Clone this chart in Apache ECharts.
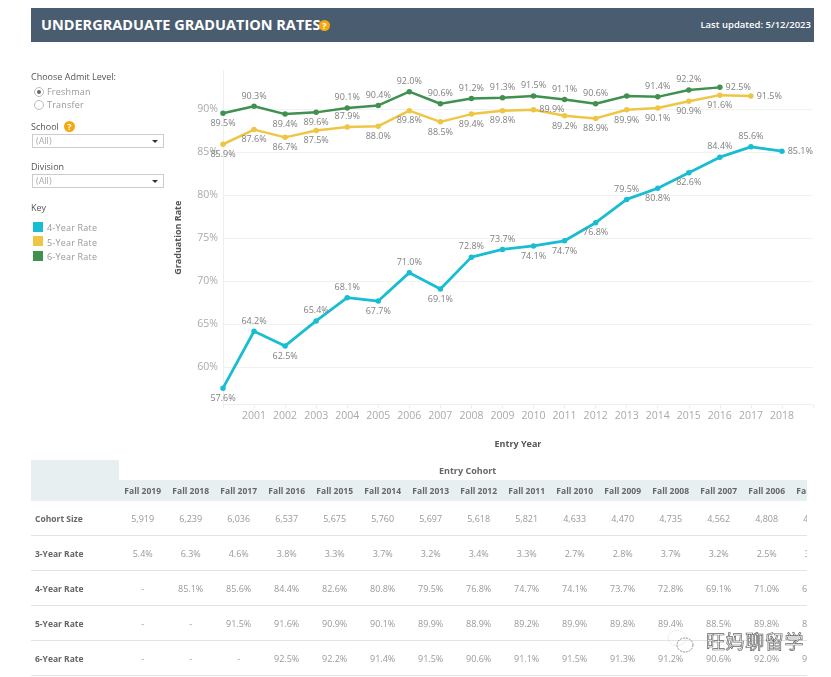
<!DOCTYPE html>
<html>
<head>
<meta charset="utf-8"/>
<title>Undergraduate Graduation Rates</title>
<style>
html,body{margin:0;padding:0;background:#fff;overflow:hidden;font-family:"Open Sans","Noto Sans",sans-serif;}
#main{position:absolute;left:0;top:0;width:831px;height:677px;}
.abs{position:absolute;white-space:nowrap;line-height:1;}
.hdr{left:31px;top:8px;width:783px;height:34px;background:#4a5d70;}
.help{width:11px;height:11px;border-radius:50%;background:#f5a70f;color:#fff;font-size:9px;font-weight:700;text-align:center;line-height:11px;}
.lab{font-size:9px;color:#555;}
.opt{font-size:9px;color:#999;letter-spacing:.2px;}
.radio{width:8px;height:8px;border:1px solid #bbb;border-radius:50%;background:#fff;}
.radio i{display:block;width:4px;height:4px;margin:2px;border-radius:50%;background:#666;}
.sel{left:32px;width:130px;height:12px;border:1px solid #ccc;font-size:9px;color:#aaa;line-height:12px;text-indent:3px;}
.sel b{position:absolute;right:5px;top:5px;width:0;height:0;border-left:3px solid transparent;border-right:3px solid transparent;border-top:3px solid #333;}
.swatch{left:33px;width:10px;height:10px;}
#tbl{position:absolute;left:31px;top:460px;width:776px;height:217px;overflow:hidden;}
#tbl .grey{position:absolute;background:#e8eff1;}
#tbl .c{position:absolute;width:48px;text-align:center;font-size:9px;line-height:12px;white-space:nowrap;color:#999;}
#tbl .c.h{font-weight:700;color:#666;font-size:8.5px;}
#tbl .r{position:absolute;left:4px;font-size:8.5px;font-weight:700;color:#666;line-height:12px;}
#tbl .ln{position:absolute;left:0;width:776px;height:1px;background:#e3e3e3;}
.wm{left:706px;top:630px;width:100px;height:24px;}
.wmt{left:706px;top:631px;font-family:"Noto Sans CJK SC";font-size:19px;letter-spacing:.6px;color:#fff;-webkit-text-stroke:.7px #666;}
</style>
</head>
<body>
<div id="main"></div>

<div class="abs hdr"></div>
<div class="abs" style="left:41px;top:18px;font-size:14.5px;font-weight:700;color:#fff;">UNDERGRADUATE GRADUATION RATES</div>
<div class="abs help" style="left:319px;top:20px;">?</div>
<div class="abs" style="right:20px;top:20px;font-size:9.5px;font-weight:600;color:#fff;">Last updated: 5/12/2023</div>

<div class="abs lab" style="left:31px;top:72px;">Choose Admit Level:</div>
<div class="abs radio" style="left:34px;top:87px;"><i></i></div>
<div class="abs opt" style="left:47px;top:87px;">Freshman</div>
<div class="abs radio" style="left:34px;top:100px;"></div>
<div class="abs opt" style="left:47px;top:100px;">Transfer</div>
<div class="abs lab" style="left:31px;top:122px;">School</div>
<div class="abs help" style="left:64px;top:121px;">?</div>
<div class="abs sel" style="top:134px;">(All)<b></b></div>
<div class="abs lab" style="left:31px;top:162px;">Division</div>
<div class="abs sel" style="top:174px;">(All)<b></b></div>
<div class="abs lab" style="left:31px;top:203px;">Key</div>
<div class="abs swatch" style="top:222px;background:#19bdd2;"></div>
<div class="abs opt" style="left:47px;top:223px;">4-Year Rate</div>
<div class="abs swatch" style="top:236px;background:#eec643;"></div>
<div class="abs opt" style="left:47px;top:238px;">5-Year Rate</div>
<div class="abs swatch" style="top:251px;background:#40904f;"></div>
<div class="abs opt" style="left:47px;top:252px;">6-Year Rate</div>

<div id="tbl"></div>

<svg class="abs wm" viewBox="0 0 30 24" style="width:30px;height:24px;left:666px;top:630px;display:none"></svg>
<svg class="abs" style="left:666px;top:628px;" width="34" height="28" fill="none" stroke="#777" stroke-width=".8" stroke-dasharray="2 1">
  <ellipse cx="11" cy="10" rx="9" ry="7.5" stroke="#ddd"/>
  <ellipse cx="19" cy="17" rx="8" ry="7"/>
</svg>
<div class="abs wmt">旺妈聊留学</div>

<script src="https://cdn.jsdelivr.net/npm/echarts@6/dist/echarts.min.js"></script>
<script type="text/javascript">
// chart data
var years = ['2000','2001','2002','2003','2004','2005','2006','2007','2008','2009','2010','2011','2012','2013','2014','2015','2016','2017','2018','2019'];
var rate4 = [57.6,64.2,62.5,65.4,68.1,67.7,71.0,69.1,72.8,73.7,74.1,74.7,76.8,79.5,80.8,82.6,84.4,85.6,85.1,null];
var rate5 = [85.9,87.6,86.7,87.5,87.9,88.0,89.8,88.5,89.4,89.8,89.9,89.2,88.9,89.9,90.1,90.9,91.6,91.5,null,null];
var rate6 = [89.5,90.3,89.4,89.6,90.1,90.4,92.0,90.6,91.2,91.3,91.5,91.1,90.6,91.5,91.4,92.2,92.5,null,null,null];
var yTicks = [60,65,70,75,80,85,90];

// table data, Fall 2019 down to Fall 2005
var cohorts = ['Fall 2019','Fall 2018','Fall 2017','Fall 2016','Fall 2015','Fall 2014','Fall 2013','Fall 2012','Fall 2011','Fall 2010','Fall 2009','Fall 2008','Fall 2007','Fall 2006','Fall 2005'];
var cohortSize = ['5,919','6,239','6,036','6,537','5,675','5,760','5,697','5,618','5,821','4,633','4,470','4,735','4,562','4,808','4,500'];
var rate3 = [5.4,6.3,4.6,3.8,3.3,3.7,3.2,3.4,3.3,2.7,2.8,3.7,3.2,2.5,3.0];

// where each point label sits, by year. default is top
var place4 = {2000:'bl',2002:'b',2003:'tl',2005:'b',2007:'b',2008:'tl',2010:'b',2011:'b',2012:'br',2013:'tl',2014:'br',2015:'br',2016:'tl',2018:'r'};
var place5 = {2000:'bl',2001:'b',2002:'b',2003:'b',2005:'b',2006:'b',2007:'b',2008:'b',2009:'b',2010:'r',2011:'b',2012:'b',2013:'b',2014:'b',2015:'b',2016:'b',2017:'r'};
var place6 = {2000:'bl',2002:'b',2003:'b',2013:'none',2016:'r'};

var labelStyles = {
    t:{position:'top',distance:3},
    b:{position:'bottom',distance:3},
    r:{position:'right',distance:3},
    tl:{position:'top',distance:3,offset:[-12,0]},
    br:{position:'bottom',distance:3,offset:[11,0]},
    bl:{position:'bottom',distance:3,offset:[12,0]}
};

function makeSeries(name,values,color,width,place){
    var data = values.map(function(v,i){
        var p = place[years[i]] || 't';
        if(p=='none'){
            return {value:v,label:{show:false}};
        }
        return {value:v,label:labelStyles[p]};
    });
    return {
        name:name,
        type:'line',
        data:data,
        symbol:'circle',
        symbolSize:5.5,
        showAllSymbol:true,
        animation:false,
        lineStyle:{color:color,width:width},
        itemStyle:{color:color},
        label:{
            show:true,
            color:'#808080',
            fontSize:9,
            fontFamily:'Open Sans',
            formatter:function(p){return p.value.toFixed(1)+'%';}
        },
        labelLayout:{hideOverlap:false}
    };
}

var myChart = echarts.init(document.getElementById('main'),null,{renderer:'canvas'});
myChart.setOption({
    animation:false,
    textStyle:{fontFamily:'Open Sans'},
    grid:{left:223,top:71,width:590,height:333.5},
    xAxis:{
        type:'category',
        data:years,
        boundaryGap:false,
        name:'Entry Year',
        nameLocation:'middle',
        nameGap:35,
        nameTextStyle:{color:'#555',fontSize:9,fontWeight:'bold'},
        axisLine:{lineStyle:{color:'#eeeeee'}},
        axisTick:{show:true,length:4,alignWithLabel:true,interval:0,lineStyle:{color:'#eeeeee'}},
        axisLabel:{color:'#aaaaaa',fontSize:10.5,margin:6,interval:0,showMinLabel:false,showMaxLabel:false,
            formatter:function(v){return (v=='2000'||v=='2019')?'':v;}},
        splitLine:{show:false}
    },
    yAxis:{
        type:'value',
        min:55.7,
        max:94.4,
        name:'Graduation Rate',
        nameLocation:'middle',
        nameGap:40,
        nameTextStyle:{color:'#555',fontSize:9,fontWeight:'bold'},
        axisLine:{show:true,lineStyle:{color:'#eeeeee'}},
        axisTick:{show:false,customValues:yTicks},
        axisLabel:{color:'#aaaaaa',fontSize:10.5,margin:5,customValues:yTicks,formatter:'{value}%'},
        splitLine:{show:true,lineStyle:{color:'#f2f2f2',width:1}}
    },
    series:[
        makeSeries('6-Year Rate',rate6,'#40904f',2.5,place6),
        makeSeries('5-Year Rate',rate5,'#eec643',2.5,place5),
        makeSeries('4-Year Rate',rate4,'#19bdd2',2.8,place4)
    ]
});

// table under the chart, the rate rows come from the same arrays as the lines
function rateText(arr,cohort){
    var v = arr[years.indexOf(cohort.slice(5))];
    return (v==null) ? '-' : v.toFixed(1)+'%';
}
function buildTable(){
    var tbl = document.getElementById('tbl');
    var html = '<div class="grey" style="left:0;top:0;width:88px;height:41px"></div>'
        + '<div class="grey" style="left:88px;top:20px;width:688px;height:21px"></div>'
        + '<div class="c h" style="left:408px;top:5px;width:48px;font-size:9px">Entry Cohort</div>';
    var rows = [
        ['Cohort Size',function(i){return cohortSize[i];}],
        ['3-Year Rate',function(i){return rate3[i].toFixed(1)+'%';}],
        ['4-Year Rate',function(i){return rateText(rate4,cohorts[i]);}],
        ['5-Year Rate',function(i){return rateText(rate5,cohorts[i]);}],
        ['6-Year Rate',function(i){return rateText(rate6,cohorts[i]);}]
    ];
    cohorts.forEach(function(c,i){
        html += '<div class="c h" style="left:'+(87.7+48*i)+'px;top:25px">'+c+'</div>';
    });
    rows.forEach(function(r,j){
        var top = 52.5+35*j;
        html += '<div class="r" style="top:'+top+'px">'+r[0]+'</div>';
        cohorts.forEach(function(c,i){
            html += '<div class="c" style="left:'+(87.7+48*i)+'px;top:'+top+'px">'+r[1](i)+'</div>';
        });
        html += '<div class="ln" style="top:'+(75+35*j)+'px"></div>';
    });
    tbl.innerHTML = html;
}
buildTable();
</script>
</body>
</html>
